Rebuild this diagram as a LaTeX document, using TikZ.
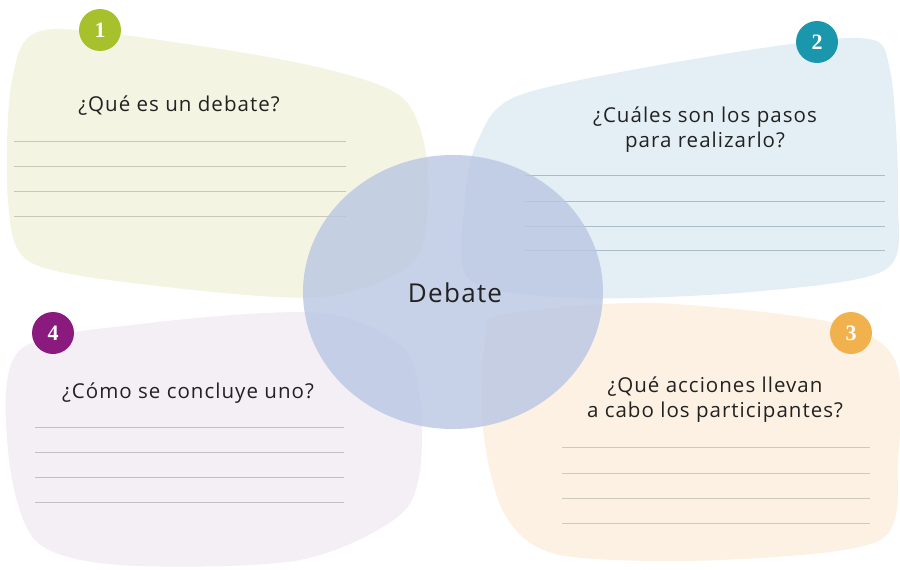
\documentclass[tikz,border=0pt]{standalone}
\usepackage{fontspec}
\setmainfont{Open Sans}[LetterSpace=5]
\newfontfamily\numfont{Liberation Serif}
\definecolor{gblob}{HTML}{F3F5E2}
\definecolor{bblob}{HTML}{E3EFF5}
\definecolor{oblob}{HTML}{FCF1E3}
\definecolor{pblob}{HTML}{F4EEF5}
\definecolor{circ}{HTML}{B9C6E3}
\definecolor{gbadge}{HTML}{A6C12C}
\definecolor{bbadge}{HTML}{1B97AD}
\definecolor{obadge}{HTML}{F1B24E}
\definecolor{pbadge}{HTML}{8A1A7E}
\definecolor{gline}{HTML}{C8C8BA}
\definecolor{bline}{HTML}{ABBCC6}
\definecolor{oline}{HTML}{CFC8BC}
\definecolor{pline}{HTML}{C6BBC6}
\definecolor{txt}{HTML}{222222}
\tikzset{
  blob/.style={smooth cycle, tension=0.5},
  badge/.style={circle, minimum size=42pt, inner sep=0pt, text=white, font=\numfont\bfseries\fontsize{22}{22}\selectfont},
  question/.style={align=center, text=txt, font=\fontsize{20.5}{25}\selectfont},
  rule/.style={line width=0.9pt},
}
\begin{document}
\begin{tikzpicture}[x=1pt,y=-1pt]
\useasboundingbox (0,0) rectangle (900,570);
\fill[white] (0,0) rectangle (900,570);
% blobs
\fill[gblob] plot[blob] coordinates {(45,30) (200,46) (330,70) (405,100) (428,170) (415,260) (320,297) (150,285) (30,262) (8,200) (12,80)};
\fill[bblob] plot[blob] coordinates {(520,95) (700,58) (860,38) (890,70) (898,200) (885,270) (750,292) (580,298) (470,280) (465,200) (478,140)};
\fill[oblob] plot[blob] coordinates {(500,315) (650,303) (830,322) (895,360) (898,460) (880,540) (720,560) (560,555) (505,515) (483,430) (485,340)};
\fill[pblob] plot[blob] coordinates {(20,350) (150,323) (320,313) (405,350) (422,430) (405,510) (300,560) (120,565) (35,540) (8,450)};
% rules
\foreach \y in {141,166,191,216} \draw[rule,gline] (14,\y) -- (346,\y);
\foreach \y in {175,201,226,250} \draw[rule,bline] (525,\y) -- (885,\y);
\foreach \y in {447,473,498,523} \draw[rule,oline] (562,\y) -- (870,\y);
\foreach \y in {427,452,477,502} \draw[rule,pline] (35,\y) -- (344,\y);
% central circle
\fill[circ, fill opacity=0.8] (453,292) ellipse [x radius=150, y radius=137];
\node[text=txt, font=\fontsize{26}{26}\selectfont] (center) at (455,293) {Debate};
% questions
\node[question] (q1) at (179,106) {¿Qué es un debate?};
\node[question] (q2) at (705,130) {¿Cuáles son los pasos\\para realizarlo?};
\node[question] (q3) at (715,400) {¿Qué acciones llevan\\a cabo los participantes?};
\node[question] (q4) at (188,393) {¿Cómo se concluye uno?};
% badges
\node[badge, fill=gbadge] (b1) at (100,30) {1};
\node[badge, fill=bbadge] (b2) at (817,42) {2};
\node[badge, fill=obadge] (b3) at (851,333) {3};
\node[badge, fill=pbadge] (b4) at (53,333) {4};
\end{tikzpicture}
\end{document}
